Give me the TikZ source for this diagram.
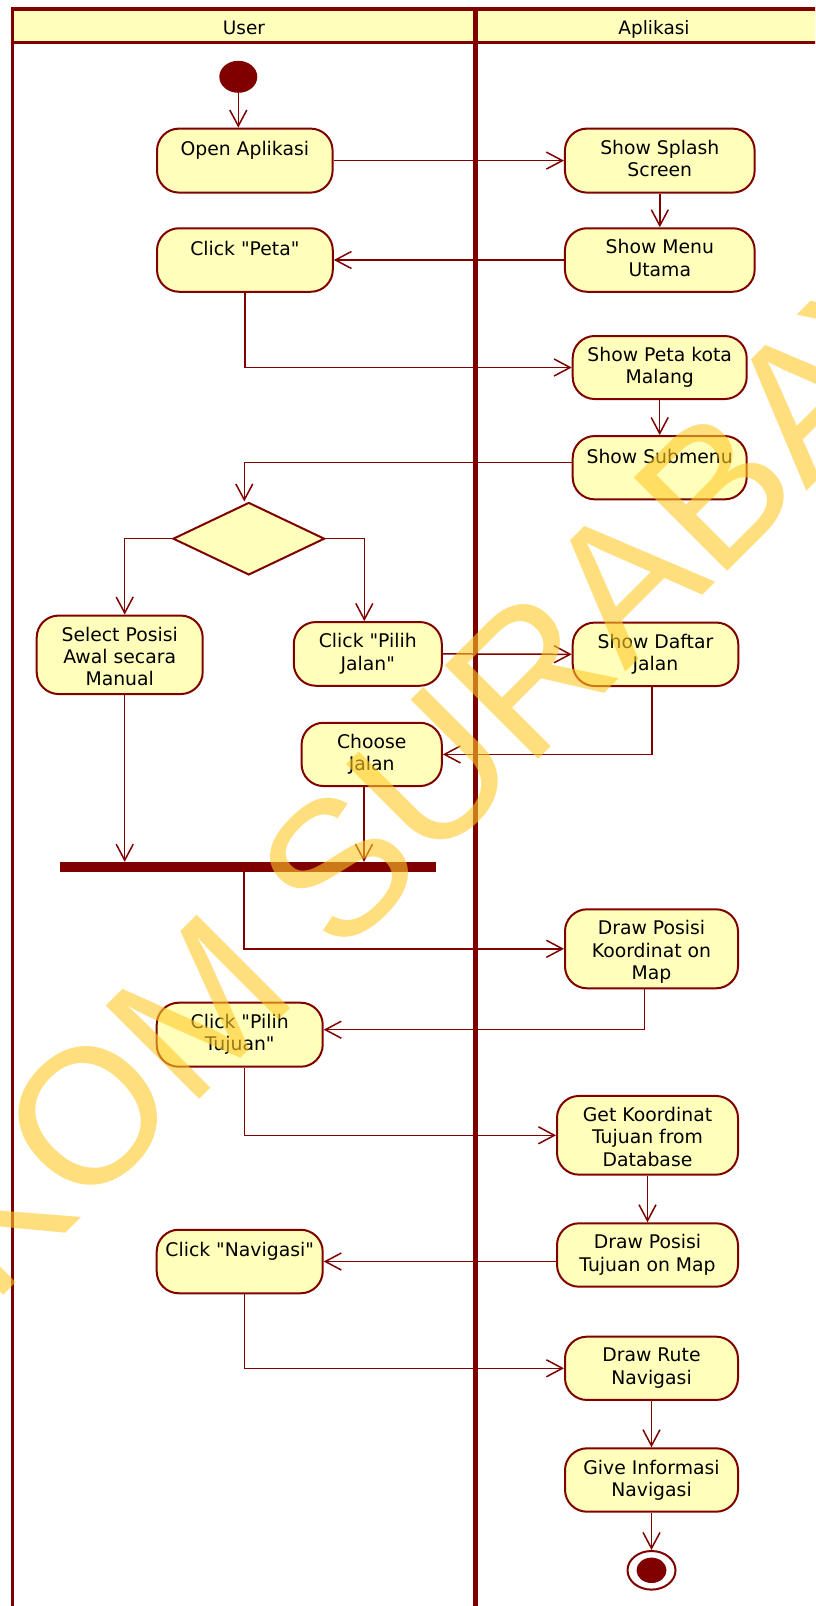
\documentclass[tikz,border=0pt]{standalone}
\usepackage{fontspec}
\setmainfont{DejaVu Sans}
\newfontfamily\wmfont{Liberation Sans}
\font\dqfont="DejaVu Sans" at 18.8pt
\newcommand\dq{{\dqfont\char34}}
\usetikzlibrary{shapes.geometric,arrows.meta}
\definecolor{mar}{RGB}{128,0,0}
\definecolor{lyel}{RGB}{255,255,187}
\definecolor{wmc}{RGB}{255,200,40}
\begin{document}
\begin{tikzpicture}[x=1pt,y=-1pt,
  actbox/.style={draw=mar, line width=2pt, fill=lyel, rounded corners=22pt, rectangle, inner sep=0pt},
  acttxt/.style={anchor=north, inner sep=0pt, align=center, font=\fontsize{18.8}{22.3}\selectfont, execute at begin node=\strut},
  arr/.style={draw=mar, line width=1.5pt, -{Straight Barb[length=16pt,width=17pt]}},
  lanetitle/.style={anchor=base, inner sep=0pt, font=\fontsize{18.5}{22}\selectfont},
]
\useasboundingbox (0,0) rectangle (815,1606);
\clip (0,0) rectangle (815,1606);
\fill[white] (0,0) rectangle (815,1606);

% swimlane frame
\fill[lyel] (12.7,9) rectangle (840,42.3);
\draw[mar, line width=3.3pt] (11,9) -- (840,9);
\draw[mar, line width=3.3pt] (11,42.3) -- (840,42.3);
\draw[mar, line width=3pt] (12.7,7.4) -- (12.7,1620);
\draw[mar, line width=5.7pt] (475.5,7.4) -- (475.5,1620);
\node[lanetitle] (lu) at (244,34.3) {User};
\node[lanetitle] (la) at (654,34.3) {Aplikasi};

% start / end
\node[ellipse, fill=mar, minimum width=38pt, minimum height=32pt, inner sep=0pt] (st) at (238.3,76.8) {};
\node[ellipse, draw=mar, line width=2pt, fill=white, minimum width=48pt, minimum height=38.6pt, inner sep=0pt] (en) at (651.5,1570.3) {};
\node[ellipse, fill=mar, minimum width=30pt, minimum height=25.4pt, inner sep=0pt] (enin) at (en.center) {};

% activities
\node[actbox, minimum width=175.6pt, minimum height=64pt] (op) at (244.8,160.6) {};
\node[acttxt] (opT) at ([yshift=-12.2pt]op.north) {Open Aplikasi};
\node[actbox, minimum width=189.7pt, minimum height=64pt] (ss) at (659.8,160.6) {};
\node[acttxt] (ssT) at ([yshift=-12.2pt]ss.north) {Show Splash\\Screen};
\node[actbox, minimum width=175.8pt, minimum height=63.5pt] (cp) at (244.9,260) {};
\node[acttxt] (cpT) at ([yshift=-12.2pt]cp.north) {Click \dq{}Peta\dq};
\node[actbox, minimum width=189.7pt, minimum height=63.5pt] (smu) at (659.8,260) {};
\node[acttxt] (smuT) at ([yshift=-12.2pt]smu.north) {Show Menu\\Utama};
\node[actbox, minimum width=174pt, minimum height=63pt] (spk) at (659.7,367.5) {};
\node[acttxt] (spkT) at ([yshift=-12.2pt]spk.north) {Show Peta kota\\Malang};
\node[actbox, minimum width=174pt, minimum height=63.3pt] (sub) at (659.7,467.7) {};
\node[acttxt] (subT) at ([yshift=-12.2pt]sub.north) {Show Submenu};
\node[actbox, minimum width=166pt, minimum height=78.5pt] (sel) at (119.7,654.8) {};
\node[acttxt] (selT) at ([yshift=-12.2pt]sel.north) {Select Posisi\\Awal secara\\Manual};
\node[actbox, minimum width=148pt, minimum height=63.7pt] (cpj) at (367.8,653.9) {};
\node[acttxt] (cpjT) at ([yshift=-12.2pt]cpj.north) {Click \dq{}Pilih\\Jalan\dq};
\node[actbox, minimum width=165.6pt, minimum height=63.5pt] (sd) at (655.5,654.3) {};
\node[acttxt] (sdT) at ([yshift=-12.2pt]sd.north) {Show Daftar\\Jalan};
\node[actbox, minimum width=140.3pt, minimum height=63.3pt] (cj) at (371.7,754.4) {};
\node[acttxt] (cjT) at ([yshift=-12.2pt]cj.north) {Choose\\Jalan};
\node[actbox, minimum width=173pt, minimum height=79pt] (dpk) at (651.5,948.8) {};
\node[acttxt] (dpkT) at ([yshift=-12.2pt]dpk.north) {Draw Posisi\\Koordinat on\\Map};
\node[actbox, minimum width=166pt, minimum height=64pt] (cpt) at (239.7,1034.7) {};
\node[acttxt] (cptT) at ([yshift=-12.2pt]cpt.north) {Click \dq{}Pilih\\Tujuan\dq};
\node[actbox, minimum width=181pt, minimum height=78.7pt] (gk) at (647.5,1135.3) {};
\node[acttxt] (gkT) at ([yshift=-12.2pt]gk.north) {Get Koordinat\\Tujuan from\\Database};
\node[actbox, minimum width=181pt, minimum height=63.4pt] (dpt) at (647.5,1255) {};
\node[acttxt] (dptT) at ([yshift=-12.2pt]dpt.north) {Draw Posisi\\Tujuan on Map};
\node[actbox, minimum width=166pt, minimum height=63.5pt] (cn) at (239.7,1261.5) {};
\node[acttxt] (cnT) at ([yshift=-12.2pt]cn.north) {Click \dq{}Navigasi\dq};
\node[actbox, minimum width=173pt, minimum height=63.3pt] (dr) at (651.5,1368.3) {};
\node[acttxt] (drT) at ([yshift=-12.2pt]dr.north) {Draw Rute\\Navigasi};
\node[actbox, minimum width=173pt, minimum height=63.4pt] (gi) at (651.5,1480) {};
\node[acttxt] (giT) at ([yshift=-12.2pt]gi.north) {Give Informasi\\Navigasi};

% decision and fork bar
\node[diamond, draw=mar, line width=2pt, fill=lyel, minimum width=151.6pt, minimum height=72.5pt, inner sep=0pt] (dia) at (248.8,538.7) {};
\node[rectangle, fill=mar, minimum width=376.2pt, minimum height=10pt, inner sep=0pt] (bar) at (247.6,867) {};

% helper points
\coordinate (subout) at ([yshift=5.4pt]sub.west);
\coordinate (diain) at ([xshift=-4.5pt]dia.north);
\coordinate (selin) at ([xshift=5pt]sel.north);
\coordinate (cpjin) at ([xshift=-3.5pt]cpj.north);
\coordinate (sdout) at ([xshift=-3.5pt]sd.south);
\coordinate (selout) at ([xshift=5pt]sel.south);
\coordinate (cjout) at ([xshift=-7.7pt]cj.south);
\coordinate (barout) at ([xshift=-3.5pt]bar.south);
\coordinate (dpkout) at ([xshift=-7pt]dpk.south);
\coordinate (cptin) at ([yshift=5pt]cpt.east);
\coordinate (cptout) at ([xshift=4.8pt]cpt.south);
\coordinate (cnout) at ([xshift=4.6pt]cn.south);

% connectors
\draw[arr] (st.south) -- (st.south |- op.north);
\draw[arr] (op.east) -- (ss.west);
\draw[arr] (ss.south) -- (smu.north);
\draw[arr] (smu.west) -- (cp.east);
\draw[arr] (cp.south) |- (spk.west);
\draw[arr] (spk.south) -- (sub.north);
\draw[arr] (subout) -| (diain);
\draw[arr] (dia.west) -| (selin);
\draw[arr] (dia.east) -| (cpjin);
\draw[arr] (cpj.east) -- (sd.west);
\draw[arr] (sdout) |- (cj.east);
\draw[arr] (selout) -- (selout |- bar.north);
\draw[arr] (cjout) -- (cjout |- bar.north);
\draw[arr] (barout) |- (dpk.west);
\draw[arr] (dpkout) |- (cptin);
\draw[arr] (cptout) |- (gk.west);
\draw[arr] (gk.south) -- (dpt.north);
\draw[arr] (dpt.west |- cn.east) -- (cn.east);
\draw[arr] (cnout) |- (dr.west);
\draw[arr] (dr.south) -- (gi.north);
\draw[arr] (gi.south) -- (en.north);

% watermark
\node[text=wmc, text opacity=0.6, font=\wmfont\fontsize{192}{192}\selectfont, rotate=45, inner sep=0pt] (wm) at (373,832) {STIKOM SURABAYA};
\end{tikzpicture}
\end{document}
